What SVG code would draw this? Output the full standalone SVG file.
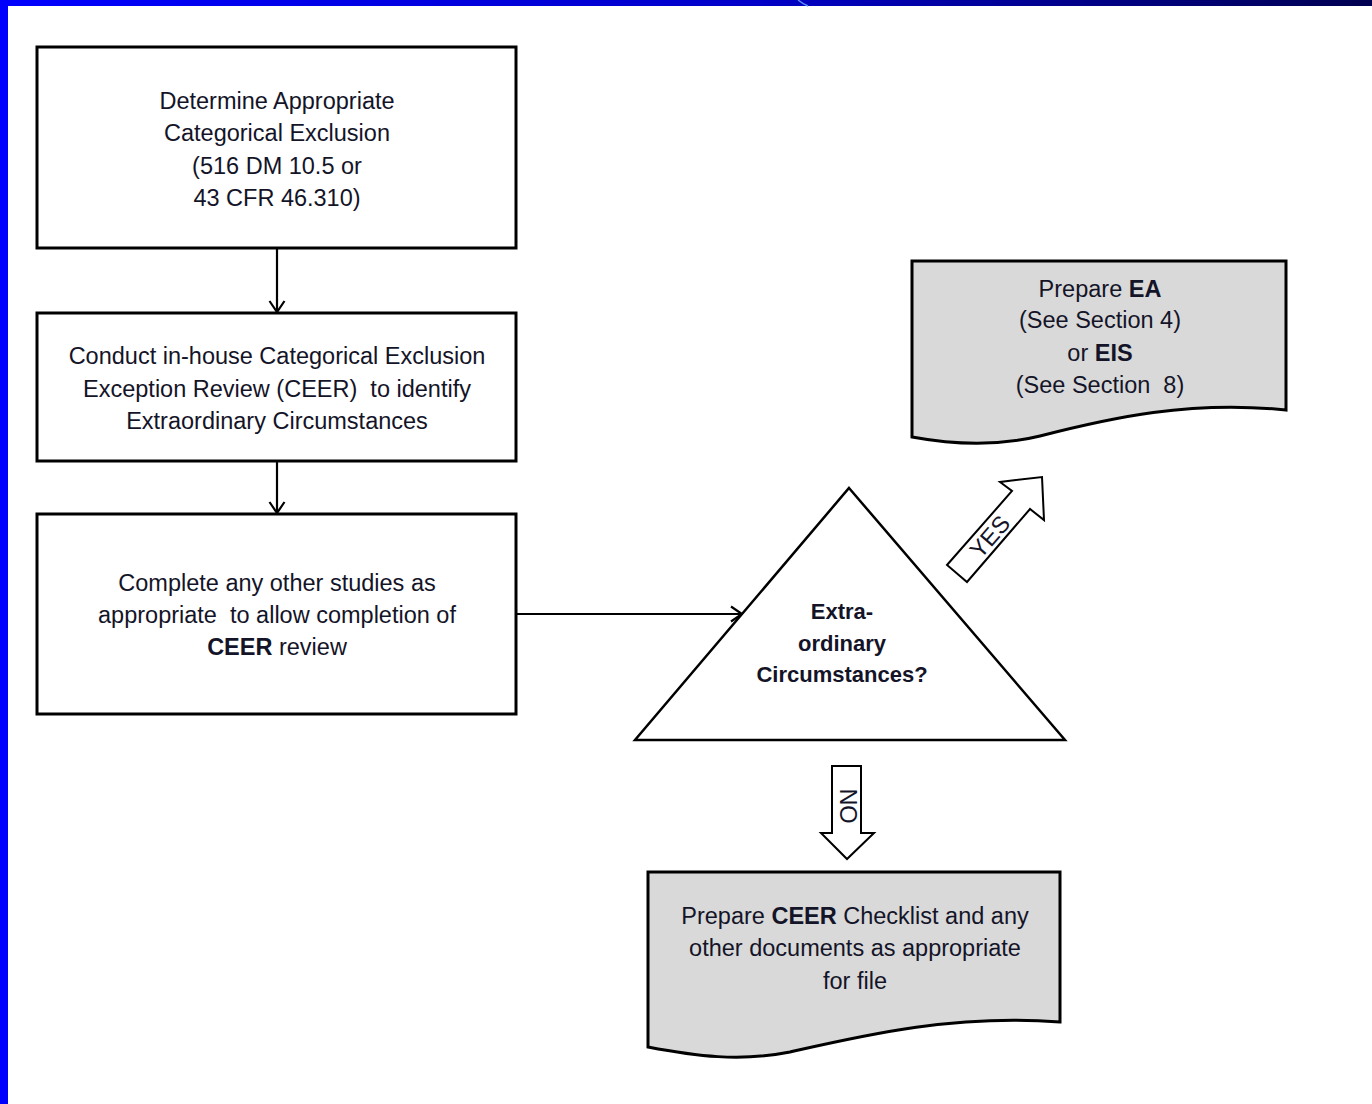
<svg xmlns="http://www.w3.org/2000/svg" width="1372" height="1104" viewBox="0 0 1372 1104">
<defs>
<linearGradient id="bar" x1="0" y1="0" x2="1" y2="0">
<stop offset="0" stop-color="#0000ff"/>
<stop offset="0.55" stop-color="#0000c8"/>
<stop offset="1" stop-color="#000050"/>
</linearGradient>
<marker id="chev" markerWidth="18" markerHeight="18" refX="14" refY="9" orient="auto" markerUnits="userSpaceOnUse">
<path d="M3,1.5 L14,9 L3,16.5" fill="none" stroke="#000" stroke-width="2.2"/>
</marker>
</defs>
<style>
.box{fill:#fff;stroke:#000;stroke-width:3}
.doc{fill:#d9d9d9;stroke:#000;stroke-width:3}
.t{font-family:"Liberation Sans",Arial,sans-serif;font-size:23.5px;fill:#141428;text-anchor:middle}
.b{font-weight:bold}
.s{font-size:22px}
.con{fill:none;stroke:#000;stroke-width:2.2}
.blk{fill:#fff;stroke:#000;stroke-width:2}
</style>
<rect width="1372" height="1104" fill="#fff"/>
<rect x="0" y="0" width="1372" height="6" fill="url(#bar)"/>
<rect x="0" y="0" width="8" height="1104" fill="#0000ff"/>
<path d="M798,0 Q803,4 808,6" fill="none" stroke="#5a8cff" stroke-width="1.5"/>

<g id="connectors">
<line class="con" x1="277" y1="248" x2="277" y2="312" marker-end="url(#chev)"/>
<line class="con" x1="277" y1="461" x2="277" y2="513" marker-end="url(#chev)"/>
<line class="con" x1="516" y1="614" x2="742" y2="614" marker-end="url(#chev)"/>
</g>

<g id="n1">
<rect class="box" x="37" y="47" width="479" height="201"/>
<text class="t" x="277" y="109">Determine Appropriate</text>
<text class="t" x="277" y="141">Categorical Exclusion</text>
<text class="t" x="277" y="174">(516 DM 10.5 or</text>
<text class="t" x="277" y="206">43 CFR 46.310)</text>
</g>

<g id="n2">
<rect class="box" x="37" y="313" width="479" height="148"/>
<text class="t" x="277" y="364">Conduct in-house Categorical Exclusion</text>
<text class="t" x="277" y="397" xml:space="preserve">Exception Review (CEER)  to identify</text>
<text class="t" x="277" y="429">Extraordinary Circumstances</text>
</g>

<g id="n3">
<rect class="box" x="37" y="514" width="479" height="200"/>
<text class="t" x="277" y="591">Complete any other studies as</text>
<text class="t" x="277" y="623" xml:space="preserve">appropriate  to allow completion of</text>
<text class="t" x="277" y="655"><tspan class="b">CEER</tspan> review</text>
</g>

<g id="decision">
<polygon points="849,488 1065,740 635,740" fill="#fff" stroke="#000" stroke-width="2.5"/>
<text class="t b s" x="842" y="619">Extra-</text>
<text class="t b s" x="842" y="651">ordinary</text>
<text class="t b s" x="842" y="682">Circumstances?</text>
</g>

<g id="yes">
<polygon class="blk" points="1042,477 1044,520 1030,509 967,582 947,565 1012,491 1000,482"/>
<text class="t" x="0" y="0" font-size="18" transform="translate(996,542) rotate(-49)">YES</text>
</g>

<g id="no">
<polygon class="blk" points="832,766 861,766 861,833 874,833 847,859 821,833 832,833"/>
<text class="t" x="0" y="0" font-size="18" transform="translate(840,806) rotate(90)">NO</text>
</g>

<g id="ea">
<path class="doc" d="M912,261 H1286 V410 C1190,400 1110,418 1040,436 C995,447 950,444 912,437 Z"/>
<text class="t" x="1100" y="297">Prepare <tspan class="b">EA</tspan></text>
<text class="t" x="1100" y="328">(See Section 4)</text>
<text class="t" x="1100" y="361">or <tspan class="b">EIS</tspan></text>
<text class="t" x="1100" y="393" xml:space="preserve">(See Section  8)</text>
</g>

<g id="checklist">
<path class="doc" d="M648,872 H1060 V1022 C955,1014 865,1035 790,1052 C740,1062 695,1056 648,1047 Z"/>
<text class="t" x="855" y="924">Prepare <tspan class="b">CEER</tspan> Checklist and any</text>
<text class="t" x="855" y="956">other documents as appropriate</text>
<text class="t" x="855" y="989">for file</text>
</g>
</svg>
